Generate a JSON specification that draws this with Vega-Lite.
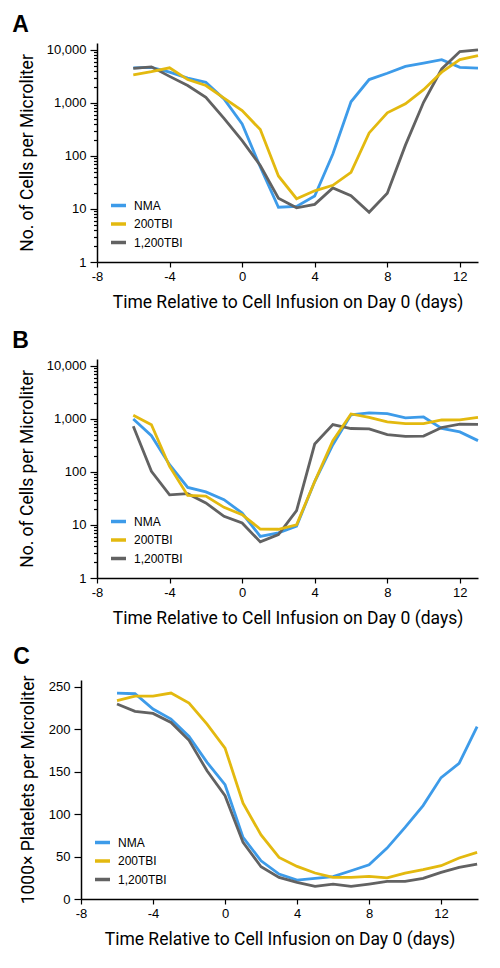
{
  "$schema": "https://vega.github.io/schema/vega-lite/v6.json",
  "padding": {"left": 12, "top": 14, "right": 5, "bottom": 5},
  "background": "white",
  "datasets": {
    "A": [
      {"day": -6, "group": "NMA", "value": 4570}, {"day": -5, "group": "NMA", "value": 4700}, {"day": -4, "group": "NMA", "value": 3800}, {"day": -3, "group": "NMA", "value": 2930}, {"day": -2, "group": "NMA", "value": 2450}, {"day": -1, "group": "NMA", "value": 1190}, {"day": 0, "group": "NMA", "value": 400}, {"day": 1, "group": "NMA", "value": 62}, {"day": 2, "group": "NMA", "value": 10.8}, {"day": 3, "group": "NMA", "value": 11.2}, {"day": 4, "group": "NMA", "value": 17.5}, {"day": 5, "group": "NMA", "value": 109}, {"day": 6, "group": "NMA", "value": 1050}, {"day": 7, "group": "NMA", "value": 2760}, {"day": 8, "group": "NMA", "value": 3620}, {"day": 9, "group": "NMA", "value": 4900}, {"day": 10, "group": "NMA", "value": 5650}, {"day": 11, "group": "NMA", "value": 6560}, {"day": 12, "group": "NMA", "value": 4700}, {"day": 13, "group": "NMA", "value": 4550},
      {"day": -6, "group": "1,200TBI", "value": 4500}, {"day": -5, "group": "1,200TBI", "value": 4800}, {"day": -4, "group": "1,200TBI", "value": 3170}, {"day": -3, "group": "1,200TBI", "value": 2130}, {"day": -2, "group": "1,200TBI", "value": 1280}, {"day": -1, "group": "1,200TBI", "value": 510}, {"day": 0, "group": "1,200TBI", "value": 194}, {"day": 1, "group": "1,200TBI", "value": 66}, {"day": 2, "group": "1,200TBI", "value": 15.9}, {"day": 3, "group": "1,200TBI", "value": 10.5}, {"day": 4, "group": "1,200TBI", "value": 12.2}, {"day": 5, "group": "1,200TBI", "value": 25}, {"day": 6, "group": "1,200TBI", "value": 17.8}, {"day": 7, "group": "1,200TBI", "value": 8.7}, {"day": 8, "group": "1,200TBI", "value": 19.8}, {"day": 9, "group": "1,200TBI", "value": 160}, {"day": 10, "group": "1,200TBI", "value": 1030}, {"day": 11, "group": "1,200TBI", "value": 4370}, {"day": 12, "group": "1,200TBI", "value": 9300}, {"day": 13, "group": "1,200TBI", "value": 10000},
      {"day": -6, "group": "200TBI", "value": 3390}, {"day": -5, "group": "200TBI", "value": 3900}, {"day": -4, "group": "200TBI", "value": 4600}, {"day": -3, "group": "200TBI", "value": 2760}, {"day": -2, "group": "200TBI", "value": 2130}, {"day": -1, "group": "200TBI", "value": 1230}, {"day": 0, "group": "200TBI", "value": 716}, {"day": 1, "group": "200TBI", "value": 314}, {"day": 2, "group": "200TBI", "value": 42}, {"day": 3, "group": "200TBI", "value": 15.6}, {"day": 4, "group": "200TBI", "value": 22}, {"day": 5, "group": "200TBI", "value": 28}, {"day": 6, "group": "200TBI", "value": 49}, {"day": 7, "group": "200TBI", "value": 272}, {"day": 8, "group": "200TBI", "value": 650}, {"day": 9, "group": "200TBI", "value": 960}, {"day": 10, "group": "200TBI", "value": 1780}, {"day": 11, "group": "200TBI", "value": 3800}, {"day": 12, "group": "200TBI", "value": 6560}, {"day": 13, "group": "200TBI", "value": 7800}
    ],
    "B": [
      {"day": -6, "group": "NMA", "value": 1000}, {"day": -5, "group": "NMA", "value": 484}, {"day": -4, "group": "NMA", "value": 137}, {"day": -3, "group": "NMA", "value": 51}, {"day": -2, "group": "NMA", "value": 42}, {"day": -1, "group": "NMA", "value": 30}, {"day": 0, "group": "NMA", "value": 16.8}, {"day": 1, "group": "NMA", "value": 6.1}, {"day": 2, "group": "NMA", "value": 7.1}, {"day": 3, "group": "NMA", "value": 9.5}, {"day": 4, "group": "NMA", "value": 66}, {"day": 5, "group": "NMA", "value": 326}, {"day": 6, "group": "NMA", "value": 1200}, {"day": 7, "group": "NMA", "value": 1300}, {"day": 8, "group": "NMA", "value": 1260}, {"day": 9, "group": "NMA", "value": 1050}, {"day": 10, "group": "NMA", "value": 1090}, {"day": 11, "group": "NMA", "value": 660}, {"day": 12, "group": "NMA", "value": 570}, {"day": 13, "group": "NMA", "value": 390},
      {"day": -6, "group": "1,200TBI", "value": 725}, {"day": -5, "group": "1,200TBI", "value": 103}, {"day": -4, "group": "1,200TBI", "value": 37}, {"day": -3, "group": "1,200TBI", "value": 39}, {"day": -2, "group": "1,200TBI", "value": 26}, {"day": -1, "group": "1,200TBI", "value": 14.6}, {"day": 0, "group": "1,200TBI", "value": 10.9}, {"day": 1, "group": "1,200TBI", "value": 4.8}, {"day": 2, "group": "1,200TBI", "value": 6.6}, {"day": 3, "group": "1,200TBI", "value": 18.6}, {"day": 4, "group": "1,200TBI", "value": 336}, {"day": 5, "group": "1,200TBI", "value": 780}, {"day": 6, "group": "1,200TBI", "value": 660}, {"day": 7, "group": "1,200TBI", "value": 650}, {"day": 8, "group": "1,200TBI", "value": 506}, {"day": 9, "group": "1,200TBI", "value": 470}, {"day": 10, "group": "1,200TBI", "value": 475}, {"day": 11, "group": "1,200TBI", "value": 690}, {"day": 12, "group": "1,200TBI", "value": 800}, {"day": 13, "group": "1,200TBI", "value": 790},
      {"day": -6, "group": "200TBI", "value": 1170}, {"day": -5, "group": "200TBI", "value": 780}, {"day": -4, "group": "200TBI", "value": 127}, {"day": -3, "group": "200TBI", "value": 36}, {"day": -2, "group": "200TBI", "value": 35}, {"day": -1, "group": "200TBI", "value": 21.5}, {"day": 0, "group": "200TBI", "value": 15.6}, {"day": 1, "group": "200TBI", "value": 8.4}, {"day": 2, "group": "200TBI", "value": 8.3}, {"day": 3, "group": "200TBI", "value": 10.1}, {"day": 4, "group": "200TBI", "value": 66}, {"day": 5, "group": "200TBI", "value": 390}, {"day": 6, "group": "200TBI", "value": 1240}, {"day": 7, "group": "200TBI", "value": 1070}, {"day": 8, "group": "200TBI", "value": 880}, {"day": 9, "group": "200TBI", "value": 815}, {"day": 10, "group": "200TBI", "value": 815}, {"day": 11, "group": "200TBI", "value": 955}, {"day": 12, "group": "200TBI", "value": 960}, {"day": 13, "group": "200TBI", "value": 1070}
    ],
    "C": [
      {"day": -6, "group": "NMA", "value": 242.6}, {"day": -5, "group": "NMA", "value": 241.8}, {"day": -4, "group": "NMA", "value": 223.8}, {"day": -3, "group": "NMA", "value": 212}, {"day": -2, "group": "NMA", "value": 191.5}, {"day": -1, "group": "NMA", "value": 161}, {"day": 0, "group": "NMA", "value": 134.6}, {"day": 1, "group": "NMA", "value": 72.6}, {"day": 2, "group": "NMA", "value": 45}, {"day": 3, "group": "NMA", "value": 29.4}, {"day": 4, "group": "NMA", "value": 22.3}, {"day": 5, "group": "NMA", "value": 24.2}, {"day": 6, "group": "NMA", "value": 26.3}, {"day": 7, "group": "NMA", "value": 33.3}, {"day": 8, "group": "NMA", "value": 40.4}, {"day": 9, "group": "NMA", "value": 60}, {"day": 10, "group": "NMA", "value": 84.4}, {"day": 11, "group": "NMA", "value": 110}, {"day": 12, "group": "NMA", "value": 143}, {"day": 13, "group": "NMA", "value": 159.7}, {"day": 14, "group": "NMA", "value": 203},
      {"day": -6, "group": "1,200TBI", "value": 229.7}, {"day": -5, "group": "1,200TBI", "value": 221}, {"day": -4, "group": "1,200TBI", "value": 218.6}, {"day": -3, "group": "1,200TBI", "value": 208}, {"day": -2, "group": "1,200TBI", "value": 187}, {"day": -1, "group": "1,200TBI", "value": 151}, {"day": 0, "group": "1,200TBI", "value": 121.7}, {"day": 1, "group": "1,200TBI", "value": 66.7}, {"day": 2, "group": "1,200TBI", "value": 38}, {"day": 3, "group": "1,200TBI", "value": 25.5}, {"day": 4, "group": "1,200TBI", "value": 19.6}, {"day": 5, "group": "1,200TBI", "value": 14.9}, {"day": 6, "group": "1,200TBI", "value": 17.6}, {"day": 7, "group": "1,200TBI", "value": 14.9}, {"day": 8, "group": "1,200TBI", "value": 17.6}, {"day": 9, "group": "1,200TBI", "value": 20.7}, {"day": 10, "group": "1,200TBI", "value": 20.7}, {"day": 11, "group": "1,200TBI", "value": 24.3}, {"day": 12, "group": "1,200TBI", "value": 31.4}, {"day": 13, "group": "1,200TBI", "value": 37.2}, {"day": 14, "group": "1,200TBI", "value": 41.2},
      {"day": -6, "group": "200TBI", "value": 233.6}, {"day": -5, "group": "200TBI", "value": 239}, {"day": -4, "group": "200TBI", "value": 239}, {"day": -3, "group": "200TBI", "value": 242.6}, {"day": -2, "group": "200TBI", "value": 230.8}, {"day": -1, "group": "200TBI", "value": 206}, {"day": 0, "group": "200TBI", "value": 177.8}, {"day": 1, "group": "200TBI", "value": 113}, {"day": 2, "group": "200TBI", "value": 75.4}, {"day": 3, "group": "200TBI", "value": 49}, {"day": 4, "group": "200TBI", "value": 38.4}, {"day": 5, "group": "200TBI", "value": 30.6}, {"day": 6, "group": "200TBI", "value": 25.5}, {"day": 7, "group": "200TBI", "value": 25.5}, {"day": 8, "group": "200TBI", "value": 26.7}, {"day": 9, "group": "200TBI", "value": 24.8}, {"day": 10, "group": "200TBI", "value": 30.6}, {"day": 11, "group": "200TBI", "value": 34.5}, {"day": 12, "group": "200TBI", "value": 39.2}, {"day": 13, "group": "200TBI", "value": 48.3}, {"day": 14, "group": "200TBI", "value": 54.9}
    ]
  },
  "spacing": 19,
  "vconcat": [
    {
      "title": {"text": "A"},
      "data": {"name": "A"},
      "width": 397,
      "height": 219,
      "mark": {"type": "line", "strokeWidth": 2.8},
      "encoding": {
        "x": {"field": "day", "type": "quantitative", "scale": {"domain": [-8, 13], "range": [16, 397], "nice": false},
              "axis": {"values": [-8, -4, 0, 4, 8, 12], "labelExpr": "datum.value < 0 ? '-' + abs(datum.value) : '' + datum.value", "title": "Time Relative to Cell Infusion on Day 0 (days)"}},
        "y": {"field": "value", "type": "quantitative", "scale": {"type": "log", "domain": [1, 13500], "nice": false},
              "axis": {"title": "No. of Cells per Microliter", "offset": -16,
                       "values": [1,2,3,4,5,6,7,8,9,10,20,30,40,50,60,70,80,90,100,200,300,400,500,600,700,800,900,1000,2000,3000,4000,5000,6000,7000,8000,9000,10000],
                       "labelExpr": "indexof([1,10,100,1000,10000], datum.value) >= 0 ? format(datum.value, ',') : ''",
                       "tickSize": {"condition": {"test": "indexof([1,10,100,1000,10000], datum.value) >= 0", "value": 7}, "value": 3.5}}},
        "color": {"field": "group", "type": "nominal", "sort": null,
                  "scale": {"domain": ["NMA", "200TBI", "1,200TBI"], "range": ["#3d9be9", "#e3b90f", "#626262"]},
                  "legend": {"title": null, "orient": "bottom-left", "symbolOffset": 16}}
      }
    },
    {
      "title": {"text": "B"},
      "data": {"name": "B"},
      "width": 397,
      "height": 219,
      "mark": {"type": "line", "strokeWidth": 2.8},
      "encoding": {
        "x": {"field": "day", "type": "quantitative", "scale": {"domain": [-8, 13], "range": [16, 397], "nice": false},
              "axis": {"values": [-8, -4, 0, 4, 8, 12], "labelExpr": "datum.value < 0 ? '-' + abs(datum.value) : '' + datum.value", "title": "Time Relative to Cell Infusion on Day 0 (days)"}},
        "y": {"field": "value", "type": "quantitative", "scale": {"type": "log", "domain": [1, 13500], "nice": false},
              "axis": {"title": "No. of Cells per Microliter", "offset": -16,
                       "values": [1,2,3,4,5,6,7,8,9,10,20,30,40,50,60,70,80,90,100,200,300,400,500,600,700,800,900,1000,2000,3000,4000,5000,6000,7000,8000,9000,10000],
                       "labelExpr": "indexof([1,10,100,1000,10000], datum.value) >= 0 ? format(datum.value, ',') : ''",
                       "tickSize": {"condition": {"test": "indexof([1,10,100,1000,10000], datum.value) >= 0", "value": 7}, "value": 3.5}}},
        "color": {"field": "group", "type": "nominal", "sort": null,
                  "scale": {"domain": ["NMA", "200TBI", "1,200TBI"], "range": ["#3d9be9", "#e3b90f", "#626262"]},
                  "legend": {"title": null, "orient": "bottom-left", "symbolOffset": 16}}
      }
    },
    {
      "title": {"text": "C"},
      "data": {"name": "C"},
      "width": 397,
      "height": 219,
      "mark": {"type": "line", "strokeWidth": 2.8},
      "encoding": {
        "x": {"field": "day", "type": "quantitative", "scale": {"domain": [-8, 14.05], "nice": false},
              "axis": {"values": [-8, -4, 0, 4, 8, 12], "labelExpr": "datum.value < 0 ? '-' + abs(datum.value) : '' + datum.value", "title": "Time Relative to Cell Infusion on Day 0 (days)"}},
        "y": {"field": "value", "type": "quantitative", "scale": {"domain": [0, 258], "nice": false},
              "axis": {"title": "1000× Platelets per Microliter", "values": [0, 50, 100, 150, 200, 250], "tickSize": 7, "titlePadding": 11}},
        "color": {"field": "group", "type": "nominal", "sort": null,
                  "scale": {"domain": ["NMA", "200TBI", "1,200TBI"], "range": ["#3d9be9", "#e3b90f", "#626262"]},
                  "legend": {"title": null, "orient": "bottom-left"}}
      }
    }
  ],
  "resolve": {"scale": {"x": "independent", "y": "independent", "color": "independent"}, "legend": {"color": "independent"}},
  "config": {
    "view": {"stroke": null},
    "font": "Liberation Sans",
    "title": {"anchor": "start", "frame": "bounds", "fontSize": 23, "fontWeight": "bold", "font": "Liberation Sans", "color": "black", "dx": -6, "offset": 6},
    "axis": {
      "grid": false,
      "domainColor": "black",
      "domainWidth": 1.5,
      "tickColor": "black",
      "tickWidth": 1.2,
      "labelFont": "Liberation Sans",
      "labelFontSize": 13,
      "labelColor": "black",
      "labelOverlap": false,
      "labelFlush": false,
      "titleFont": "Roboto",
      "titleFontSize": 17.5,
      "titleFontWeight": "normal",
      "titleColor": "black"
    },
    "axisX": {"tickSize": 5, "labelPadding": 3, "titlePadding": 10},
    "axisY": {"labelPadding": 4, "titlePadding": 10},
    "legend": {
      "symbolType": "stroke",
      "symbolSize": 225,
      "symbolStrokeWidth": 3.5,
      "labelFont": "Liberation Sans",
      "labelFontSize": 12,
      "labelColor": "black",
      "labelOffset": 6,
      "rowPadding": 1.5,
      "offset": 12,
      "padding": 0
    }
  }
}
